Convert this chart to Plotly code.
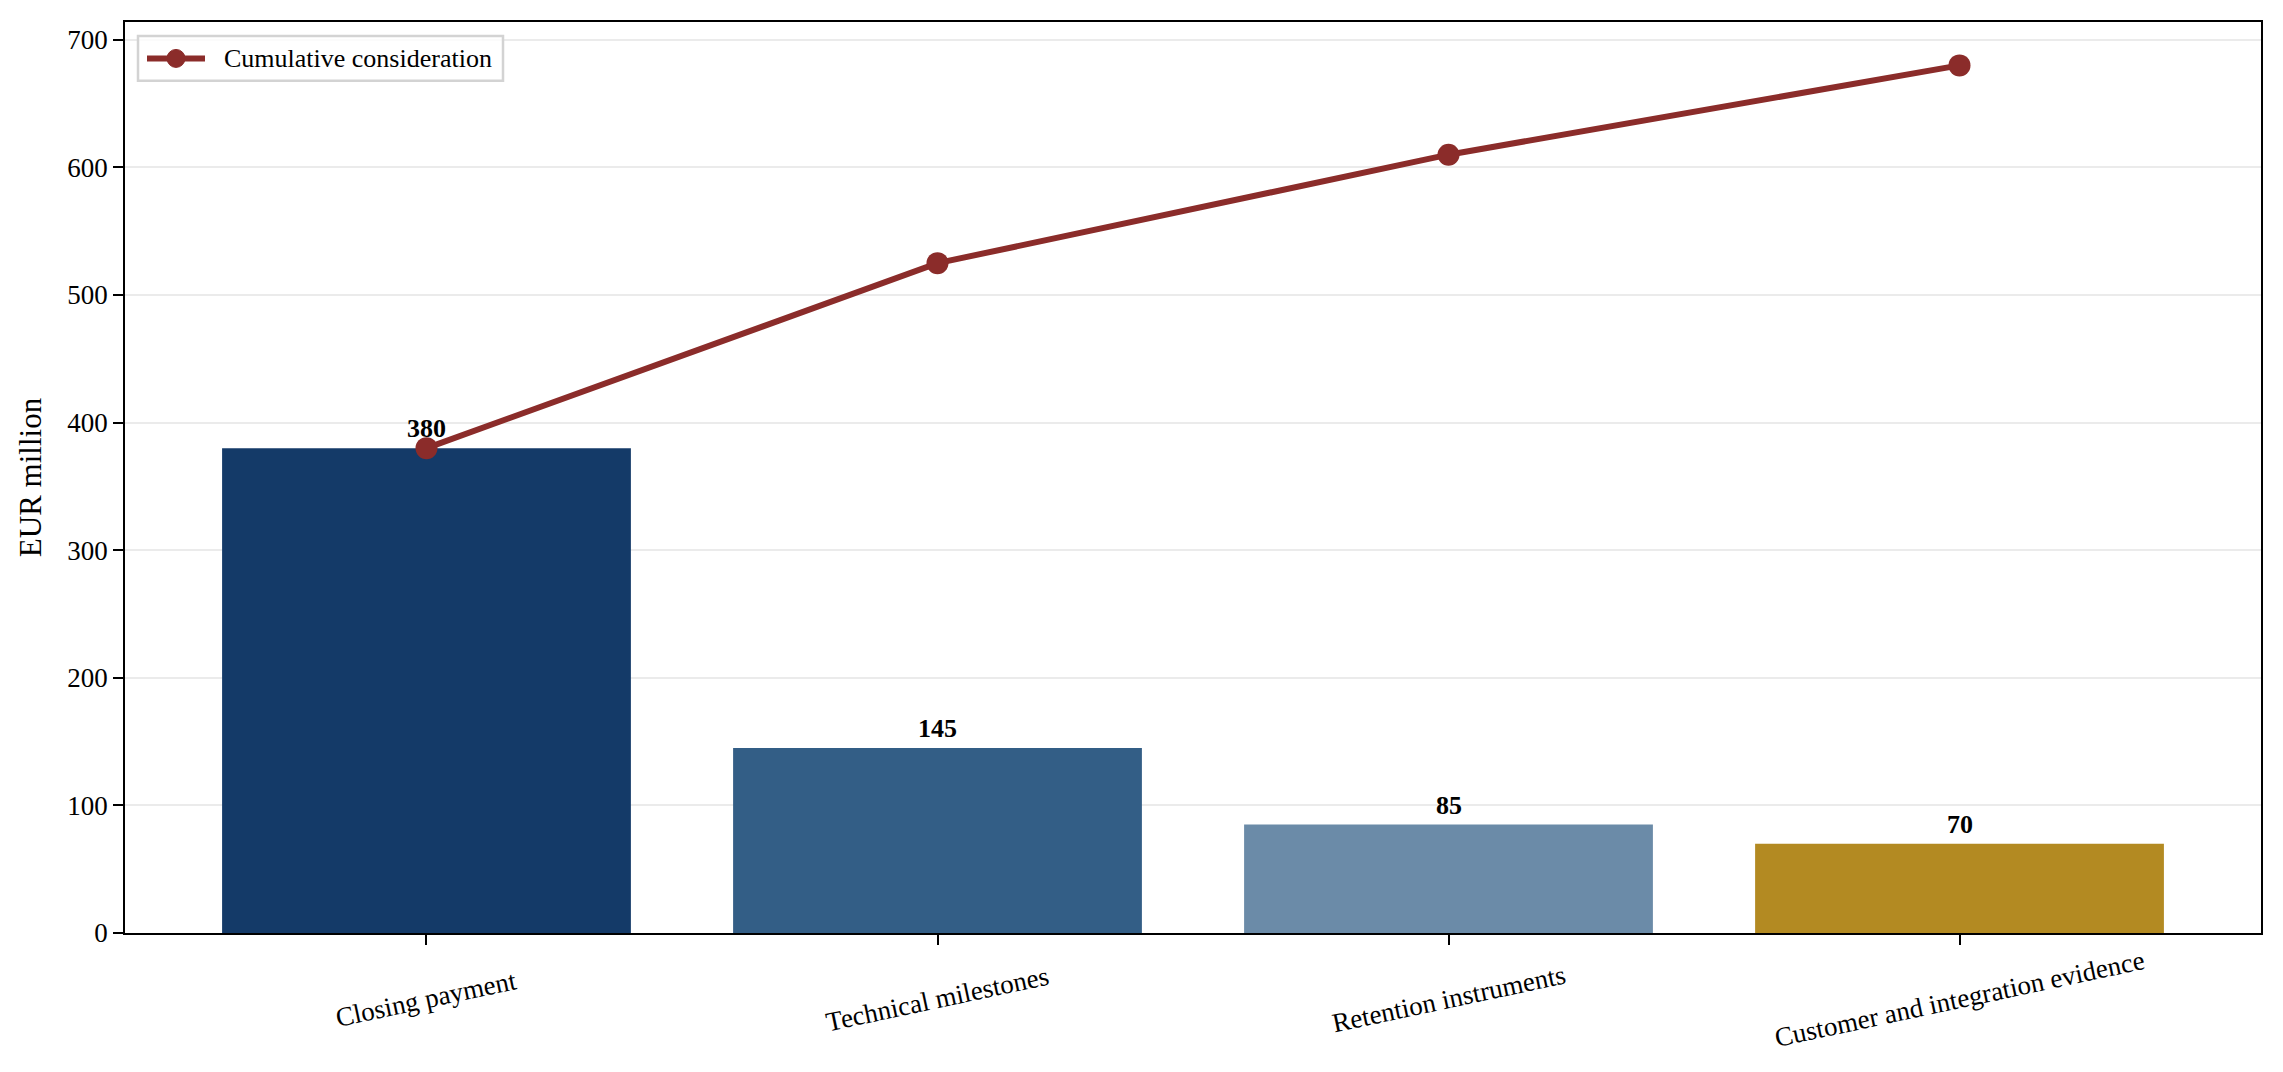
import plotly.graph_objects as go

# -----------------------------
# DATA
# -----------------------------
categories = ["Closing payment", "Technical milestones",
              "Retention instruments", "Customer and integration evidence"]
amounts = [380, 145, 85, 70]
cumulative = [380, 525, 610, 680]
bar_colors = ["#143A68", "#335E86", "#6B8BA8", "#B38A22"]
y_ticks = [0, 100, 200, 300, 400, 500, 600, 700]
line_name = "Cumulative consideration"

FONT = "Liberation Serif, Times New Roman, serif"
LINE_RED = "#8B2C2A"

# plot area in pixels (used for the hand-made legend)
PLOT_W, PLOT_H = 2136, 913

fig = go.Figure()

# bars
fig.add_trace(go.Bar(
    x=categories,
    y=amounts,
    marker=dict(color=bar_colors, line=dict(width=0)),
    width=0.8,
    showlegend=False,
    hoverinfo="x+y",
))

# cumulative line
fig.add_trace(go.Scatter(
    x=categories,
    y=cumulative,
    mode="lines+markers",
    line=dict(color=LINE_RED, width=6),
    marker=dict(size=22, color=LINE_RED),
    name=line_name,
    showlegend=False,
))

# value labels
for cat, val in zip(categories, amounts):
    fig.add_annotation(
        x=cat, y=val, text=f"<b>{val}</b>",
        showarrow=False, yanchor="bottom", yshift=3,
        font=dict(family=FONT, size=26, color="black"),
    )

# rotated category labels, centred under each tick (matplotlib style)
for cat in categories:
    fig.add_annotation(
        x=cat, y=0, yref="paper", text=cat,
        showarrow=False, textangle=-12,
        xanchor="center", yanchor="middle", yshift=-66,
        font=dict(family=FONT, size=27, color="black"),
    )

# -----------------------------
# LEGEND (manual, matplotlib look)
# -----------------------------
def px_x(p):
    return p / PLOT_W

def px_y(p):
    return 1 - p / PLOT_H

fig.add_shape(type="rect", xref="paper", yref="paper",
              x0=px_x(13), x1=px_x(378), y0=px_y(59), y1=px_y(14),
              fillcolor="rgba(255,255,255,0.8)",
              line=dict(color="#D3D3D3", width=2.5), layer="above")
fig.add_shape(type="line", xref="paper", yref="paper",
              x0=px_x(22), x1=px_x(80), y0=px_y(36.5), y1=px_y(36.5),
              line=dict(color=LINE_RED, width=6), layer="above")
fig.add_shape(type="circle", xref="paper", yref="paper",
              x0=px_x(42), x1=px_x(60), y0=px_y(45.5), y1=px_y(27.5),
              fillcolor=LINE_RED, line=dict(color=LINE_RED, width=1),
              layer="above")
fig.add_annotation(xref="paper", yref="paper", x=px_x(97), y=px_y(36.5),
                   text=line_name, showarrow=False,
                   xanchor="left", yanchor="middle",
                   font=dict(family=FONT, size=26, color="black"))

# -----------------------------
# LAYOUT
# -----------------------------
fig.update_layout(
    width=2275,
    height=1064,
    margin=dict(l=117, r=22, t=12, b=139),
    paper_bgcolor="white",
    plot_bgcolor="white",
    font=dict(family=FONT, size=27, color="black"),
    showlegend=False,
    bargap=0.2,
)

fig.update_xaxes(
    range=[-0.59, 3.59],
    showticklabels=False,
    ticks="outside", ticklen=10, tickwidth=1.5, tickcolor="black",
    showline=True, linecolor="black", linewidth=1.5, mirror=True,
    showgrid=False,
)

fig.update_yaxes(
    range=[0, 714],
    tickvals=y_ticks,
    ticks="outside", ticklen=10, tickwidth=1.5, tickcolor="black",
    showline=True, linecolor="black", linewidth=1.5, mirror=True,
    showgrid=True, gridcolor="rgba(205,205,205,0.4)", gridwidth=1.5,
    zeroline=False,
    layer="above traces",
    title=dict(text="EUR million", font=dict(family=FONT, size=31), standoff=16),
    tickfont=dict(family=FONT, size=27),
)

fig.write_html("out.html")
